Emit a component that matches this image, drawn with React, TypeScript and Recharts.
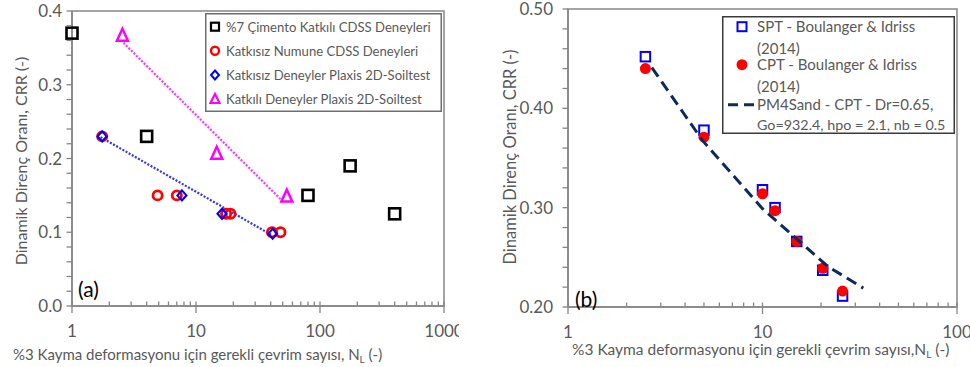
import React from 'react';
import { ScatterChart, Scatter, XAxis, YAxis, ReferenceArea, Label, Legend } from 'recharts';

// ---------- Left chart (a) data ----------
const cementN = [1, 4, 80, 175, 400];
const cementCRR = [0.37, 0.23, 0.15, 0.19, 0.125];
const pureCdssN = [1.75, 4.9, 7.0, 17.5, 19, 41, 48];
const pureCdssCRR = [0.23, 0.15, 0.15, 0.125, 0.125, 0.1, 0.1];
const purePlaxisN = [1.75, 7.7, 16.2, 41.5];
const purePlaxisCRR = [0.23, 0.15, 0.125, 0.098];
const addPlaxisN = [2.55, 14.7, 54];
const addPlaxisCRR = [0.367, 0.207, 0.149];
const pureTrendN = [1.7, 41];
const pureTrendCRR = [0.229, 0.096];
const addTrendN = [2.6, 48];
const addTrendCRR = [0.357, 0.145];

const leftXTicks = [1, 2, 3, 4, 5, 6, 7, 8, 9, 10, 20, 30, 40, 50, 60, 70, 80, 90, 100, 200, 300, 400, 500, 600, 700, 800, 900, 1000];
const leftXMajor = [1, 10, 100, 1000];
const leftXLabels = ['1', '10', '100', '1000'];
const leftYTicks = [0, 0.02, 0.04, 0.06, 0.08, 0.1, 0.12, 0.14, 0.16, 0.18, 0.2, 0.22, 0.24, 0.26, 0.28, 0.3, 0.32, 0.34, 0.36, 0.38, 0.4];
const leftYMajor = [0, 0.1, 0.2, 0.3, 0.4];
const leftYLabels = ['0.0', '0.1', '0.2', '0.3', '0.4'];
const leftNames = [
  '%7 Çimento Katkılı CDSS Deneyleri',
  'Katkısız Numune CDSS Deneyleri',
  'Katkısız Deneyler Plaxis 2D-Soiltest',
  'Katkılı Deneyler Plaxis 2D-Soiltest',
];

// ---------- Right chart (b) data ----------
const sptN = [2.5, 5.0, 10.0, 11.6, 15.0, 20.4, 25.8];
const sptCRR = [0.452, 0.378, 0.318, 0.3, 0.266, 0.237, 0.211];
const cptN = [2.5, 5.0, 10.0, 11.6, 15.0, 20.4, 25.8];
const cptCRR = [0.44, 0.371, 0.314, 0.297, 0.266, 0.239, 0.216];
const pm4N = [2.7, 4.9, 10.0, 21.6, 33];
const pm4CRR = [0.441, 0.368, 0.299, 0.241, 0.219];

const rightXTicks = [1, 2, 3, 4, 5, 6, 7, 8, 9, 10, 20, 30, 40, 50, 60, 70, 80, 90, 100];
const rightXMajor = [1, 10, 100];
const rightXLabels = ['1', '10', '100'];
const rightYTicks = [0.2, 0.22, 0.24, 0.26, 0.28, 0.3, 0.32, 0.34, 0.36, 0.38, 0.4, 0.42, 0.44, 0.46, 0.48, 0.5];
const rightYMajor = [0.2, 0.3, 0.4, 0.5];
const rightYLabels = ['0.20', '0.30', '0.40', '0.50'];
const rightNames = [
  ['SPT - Boulanger & Idriss', '(2014)'],
  ['CPT - Boulanger & Idriss', '(2014)'],
  ['PM4Sand - CPT - Dr=0.65,', 'Go=932.4, hpo = 2.1, nb = 0.5'],
];

const yTitle = 'Dinamik Direnç Oranı, CRR (-)';
const xTitleMain = '%3 Kayma deformasyonu için gerekli çevrim sayısı,';

const zip = (xs: number[], ys: number[]) => xs.map((x, i) => ({ x, y: ys[i] }));

const FONT = 'Lato, "Open Sans", sans-serif';
const AXIS = '#868686';
const TXT = '#595959';

const idxOf = (arr: number[], v: number) => arr.findIndex((m) => Math.abs(m - v) < 1e-9);

const makeXTick = (major: number[], labels: string[]) => (props: any) => {
  const { x, y, payload } = props;
  const i = idxOf(major, payload.value);
  return (
    <g>
      <line x1={x} x2={x} y1={y - 4.5} y2={i >= 0 ? y + 7 : y} stroke={AXIS} strokeWidth={1.3} />
      {i >= 0 && (
        <text x={x} y={y + 31} textAnchor="middle" fontFamily={FONT} fontSize={17} fill={TXT}>
          {labels[i]}
        </text>
      )}
    </g>
  );
};

const makeYTick = (major: number[], labels: string[], gap: number) => (props: any) => {
  const { x, y, payload } = props;
  const i = idxOf(major, payload.value);
  return (
    <g>
      <line x1={x - 5.5} x2={x} y1={y} y2={y} stroke={AXIS} strokeWidth={1.3} />
      {i >= 0 && (
        <text x={x - gap} y={y + 6} textAnchor="end" fontFamily={FONT} fontSize={17} fill={TXT}>
          {labels[i]}
        </text>
      )}
    </g>
  );
};

// ---------- Marker shapes ----------
const SquareShape = (color: string, s: number, sw: number) => (p: any) => (
  <rect x={p.cx - s / 2} y={p.cy - s / 2} width={s} height={s} fill="none" stroke={color} strokeWidth={sw} />
);
const CircleShape = (color: string, r: number, sw: number, filled: boolean) => (p: any) => (
  <circle cx={p.cx} cy={p.cy} r={r} fill={filled ? color : 'none'} stroke={color} strokeWidth={sw} />
);
const DiamondShape = (color: string, s: number, sw: number) => (p: any) => (
  <path
    d={`M${p.cx},${p.cy - s / 2} L${p.cx + s / 2 - 0.5},${p.cy} L${p.cx},${p.cy + s / 2} L${p.cx - s / 2 + 0.5},${p.cy} Z`}
    fill="none"
    stroke={color}
    strokeWidth={sw}
  />
);
const TriangleShape = (color: string, s: number, sw: number) => (p: any) => (
  <path
    d={`M${p.cx},${p.cy - s / 2 - 1} L${p.cx + s / 2},${p.cy + s / 2} L${p.cx - s / 2},${p.cy + s / 2} Z`}
    fill="none"
    stroke={color}
    strokeWidth={sw}
    strokeLinejoin="miter"
  />
);
const NoShape = () => <g />;

// ---------- Legends ----------
const LeftLegend = () => {
  const ys = [13.7, 37.7, 62, 86];
  const mx = 10;
  return (
    <svg width={237} height={99} style={{ display: 'block' }}>
      <rect x={0.75} y={0.75} width={235.5} height={97.5} fill="#fff" stroke="#6e6e6e" strokeWidth={1.5} />
      <rect x={mx - 4} y={ys[0] - 4} width={8} height={8} fill="none" stroke="#000" strokeWidth={2.2} />
      <circle cx={mx} cy={ys[1]} r={4} fill="none" stroke="#ff0000" strokeWidth={2.4} />
      <path d={`M${mx},${ys[2] - 4.5} L${mx + 4},${ys[2]} L${mx},${ys[2] + 4.5} L${mx - 4},${ys[2]} Z`} fill="none" stroke="#0000ff" strokeWidth={2} />
      <path d={`M${mx},${ys[3] - 5} L${mx + 4.5},${ys[3] + 4} L${mx - 4.5},${ys[3] + 4} Z`} fill="none" stroke="#ff00ff" strokeWidth={2.2} />
      {leftNames.map((n, i) => (
        <text key={n} x={21} y={ys[i] + 5} fontFamily={FONT} fontSize={13.1} fill={TXT}>
          {n}
        </text>
      ))}
    </svg>
  );
};

const RightLegend = () => {
  const ys = [10.7, 32.3, 48.7, 70, 88.7, 108];
  const mx = 20;
  const sizes = [15, 15, 15, 15, 15, 14.3];
  return (
    <svg width={233} height={118} style={{ display: 'block' }}>
      <rect x={0.75} y={0.75} width={231.5} height={116.5} fill="#fff" stroke="#3a3a3a" strokeWidth={1.5} />
      <rect x={mx - 4.5} y={ys[0] - 4.5} width={9} height={9} fill="none" stroke="#0000ff" strokeWidth={2} />
      <circle cx={mx} cy={ys[2]} r={5.5} fill="#ff0000" />
      <line x1={6} x2={34} y1={ys[4]} y2={ys[4]} stroke="#0d2a5c" strokeWidth={3} strokeDasharray="10 6" />
      {rightNames.flat().map((n, i) => (
        <text key={i} x={35} y={ys[i] + 5.5} fontFamily={FONT} fontSize={sizes[i]} fill={TXT}>
          {n}
        </text>
      ))}
    </svg>
  );
};

const H = 367;

export default function App() {
  return (
    <div style={{ position: 'absolute', left: 0, top: 0, width: 970, height: H, background: '#fff', overflow: 'hidden' }}>
      {/* ---------- (a) ---------- */}
      <div style={{ position: 'absolute', left: 0, top: 0 }}>
        <ScatterChart width={459} height={H} margin={{ top: 11, right: 15, bottom: 0, left: 0 }}>
          <XAxis
            type="number"
            dataKey="x"
            scale="log"
            domain={[1, 1000]}
            ticks={leftXTicks}
            interval={0}
            height={61}
            tickSize={0}
            tickMargin={0}
            tick={makeXTick(leftXMajor, leftXLabels)}
            axisLine={{ stroke: AXIS, strokeWidth: 1.5 }}
          >
            <Label
              content={() => (
                <g>
                  <text x={13} y={360} fontFamily={FONT} fontSize={15} fill={TXT}>
                    {xTitleMain} N<tspan fontSize={10} dy={3}>L</tspan>
                    <tspan dy={-3}> (-)</tspan>
                  </text>
                  <text x={78} y={297} fontFamily={FONT} fontSize={21} fill="#000">
                    (a)
                  </text>
                </g>
              )}
            />
          </XAxis>
          <YAxis
            type="number"
            dataKey="y"
            domain={[0, 0.4]}
            ticks={leftYTicks}
            interval={0}
            width={72}
            tickSize={0}
            tickMargin={0}
            tick={makeYTick(leftYMajor, leftYLabels, 10)}
            axisLine={{ stroke: AXIS, strokeWidth: 1.5 }}
          >
            <Label
              content={() => (
                <text
                  x={20}
                  y={161}
                  transform="rotate(-90 20 161)"
                  textAnchor="middle"
                  dominantBaseline="central"
                  fontFamily={FONT}
                  fontSize={16}
                  fill={TXT}
                >
                  {yTitle}
                </text>
              )}
            />
          </YAxis>
          <ReferenceArea x1={1} x2={1000} y1={0} y2={0.4} fill="none" stroke={AXIS} strokeWidth={1.5} ifOverflow="visible" />
          <Scatter name="pureTrend" data={zip(pureTrendN, pureTrendCRR)} shape={NoShape} line={{ stroke: '#3030ff', strokeWidth: 2.2, strokeDasharray: '2 1.6' }} isAnimationActive={false} legendType="none" />
          <Scatter name="addTrend" data={zip(addTrendN, addTrendCRR)} shape={NoShape} line={{ stroke: '#ff33ff', strokeWidth: 2.2, strokeDasharray: '2 1.6' }} isAnimationActive={false} legendType="none" />
          <Scatter name={leftNames[0]} data={zip(cementN, cementCRR)} shape={SquareShape('#000', 11, 2.6)} isAnimationActive={false} />
          <Scatter name={leftNames[1]} data={zip(pureCdssN, pureCdssCRR)} shape={CircleShape('#ff0000', 4.6, 2.8, false)} isAnimationActive={false} />
          <Scatter name={leftNames[2]} data={zip(purePlaxisN, purePlaxisCRR)} shape={DiamondShape('#0000ff', 10, 2.1)} isAnimationActive={false} />
          <Scatter name={leftNames[3]} data={zip(addPlaxisN, addPlaxisCRR)} shape={TriangleShape('#ff00ff', 11, 2.5)} isAnimationActive={false} />
          <Legend
            layout="vertical"
            align="center"
            verticalAlign="middle"
            content={() => <LeftLegend />}
            wrapperStyle={{ left: 205, top: 13, width: 237, height: 99 }}
          />
        </ScatterChart>
      </div>

      {/* ---------- (b) ---------- */}
      <div style={{ position: 'absolute', left: 490, top: 0 }}>
        <ScatterChart width={480} height={H} margin={{ top: 9, right: 13, bottom: 0, left: 0 }}>
          <XAxis
            type="number"
            dataKey="x"
            scale="log"
            domain={[1, 100]}
            ticks={rightXTicks}
            interval={0}
            height={60}
            tickSize={0}
            tickMargin={0}
            tick={makeXTick(rightXMajor, rightXLabels)}
            axisLine={{ stroke: AXIS, strokeWidth: 1.5 }}
          >
            <Label
              content={() => (
                <g>
                  <text x={82} y={355} fontFamily={FONT} fontSize={15.5} fill={TXT}>
                    {xTitleMain}N<tspan fontSize={10} dy={3}>L</tspan>
                    <tspan dy={-3}> (-)</tspan>
                  </text>
                  <text x={85} y={307} fontFamily={FONT} fontSize={21} fill="#000">
                    (b)
                  </text>
                </g>
              )}
            />
          </XAxis>
          <YAxis
            type="number"
            dataKey="y"
            domain={[0.2, 0.5]}
            ticks={rightYTicks}
            interval={0}
            width={78}
            tickSize={0}
            tickMargin={0}
            tick={makeYTick(rightYMajor, rightYLabels, 15)}
            axisLine={{ stroke: AXIS, strokeWidth: 1.5 }}
          >
            <Label
              content={() => (
                <text
                  x={20}
                  y={157}
                  transform="rotate(-90 20 157)"
                  textAnchor="middle"
                  dominantBaseline="central"
                  fontFamily={FONT}
                  fontSize={16.5}
                  fill={TXT}
                >
                  {yTitle}
                </text>
              )}
            />
          </YAxis>
          <ReferenceArea x1={1} x2={100} y1={0.2} y2={0.5} fill="none" stroke={AXIS} strokeWidth={1.5} ifOverflow="visible" />
          <Scatter name="SPT" data={zip(sptN, sptCRR)} shape={SquareShape('#0000ff', 9.5, 2)} isAnimationActive={false} />
          <Scatter name="CPT" data={zip(cptN, cptCRR)} shape={CircleShape('#ff0000', 5.5, 0, true)} isAnimationActive={false} />
          <Scatter name="PM4Sand" data={zip(pm4N, pm4CRR)} shape={NoShape} line={{ stroke: '#0d2a5c', strokeWidth: 3, strokeDasharray: '11 6' }} isAnimationActive={false} />
          <Legend
            layout="vertical"
            align="center"
            verticalAlign="middle"
            content={() => <RightLegend />}
            wrapperStyle={{ left: 232, top: 16, width: 233, height: 118 }}
          />
        </ScatterChart>
      </div>
    </div>
  );
}
